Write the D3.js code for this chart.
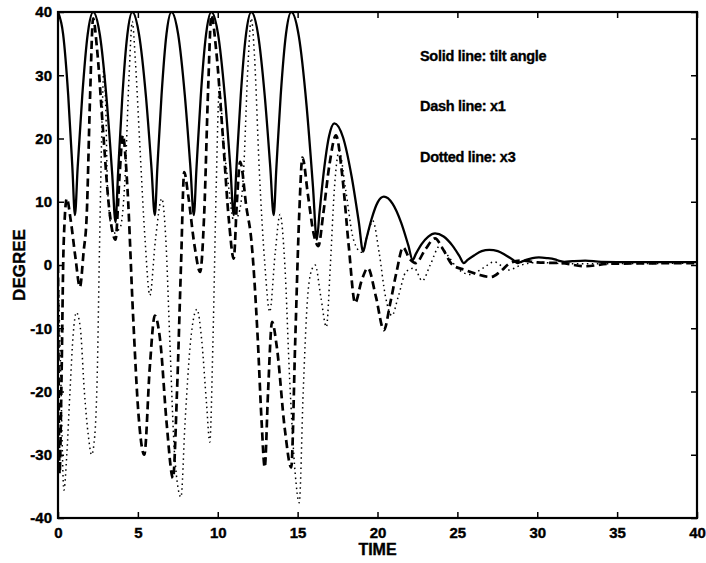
<!DOCTYPE html>
<html><head><meta charset="utf-8">
<script src="https://cdn.jsdelivr.net/npm/d3@7"></script>
<style>body{margin:0;background:#fff}svg{display:block}</style>
</head><body>
<svg id="c" width="706" height="563"></svg>
<script>
// ---- data ----
const xTicks = [0,5,10,15,20,25,30,35,40];
const yTicks = [-40,-30,-20,-10,0,10,20,30,40];
const legendLines = ["Solid line: tilt angle","Dash line: x1","Dotted line: x3"];
const xLabel = "TIME";
const yLabel = "DEGREE";

// solid: tilt angle  [time, degree]
const tilt = [[0,40],[0.32,36.5],[0.64,26.8],[0.90,15.4],[1.06,7.9],[1.23,15.4],[1.52,26.8],[1.86,36.5],
[2.2,40],[2.62,36.4],[3.04,26.3],[3.39,14.5],[3.6,6.8],[3.76,14.5],[4.02,26.3],[4.34,36.4],
[4.65,40],[5.07,36.5],[5.50,26.8],[5.85,15.4],[6.06,7.9],[6.22,15.4],[6.48,26.8],[6.79,36.5],
[7.1,40],[7.52,36.5],[7.94,26.8],[8.29,15.4],[8.5,7.9],[8.67,15.4],[8.94,26.8],[9.27,36.5],
[9.6,40],[10.02,36.5],[10.44,26.8],[10.79,15.4],[11.0,7.9],[11.17,15.4],[11.44,26.8],[11.77,36.5],
[12.1,40],[12.52,36.5],[12.94,26.8],[13.29,15.4],[13.5,7.9],[13.67,15.4],[13.94,26.8],[14.27,36.5],
[14.6,40],[15.08,36.1],[15.56,25.2],[15.96,12.4],[16.2,4.0],[16.37,8.3],[16.64,14.8],[16.97,20.4],
[17.3,22.4],[17.84,20.2],[18.38,14.0],[18.83,6.8],[19.1,2.1],[19.3,4.1],[19.62,7.2],[20.01,9.9],
[20.4,10.8],[20.94,9.7],[21.48,6.7],[21.93,3.1],[22.2,0.8],[22.41,1.8],[22.76,3.3],[23.18,4.5],
[23.6,5.0],[24.14,4.5],[24.68,3.1],[25.13,1.4],[25.4,0.3],[25.64,0.8],[26.04,1.5],[26.52,2.2],
[27.0,2.4],[27.53,2.2],[28.05,1.5],[28.49,0.8],[28.75,0.3],[29.0,0.5],[29.3,0.8],[29.7,1.1],
[30.1,1.2],[30.6,1.1],[31.1,0.9],[31.45,0.6],[31.7,0.5],[32.2,0.6],[33.0,0.7],[34.0,0.5],[36.0,0.45],[40,0.45]];

// dashed: x1
const x1 = [[0,0],[0.1,-33],[0.22,-18],[0.35,3],[0.55,10.5],[0.8,7],[1.1,1],[1.37,-3.5],[1.6,2],[1.8,8],[2.0,26],[2.2,39],
[2.45,34],[2.8,22],[3.2,9],[3.6,4],[3.85,14],[4.06,20.5],[4.35,12],[4.7,-8],[5.05,-24],[5.4,-30],[5.75,-16],[6.06,-8],
[6.4,-12],[6.8,-25],[7.2,-33.7],[7.45,-20],[7.7,0],[7.9,14.7],[8.15,11],[8.55,3],[8.9,-1.1],[9.15,8],[9.4,28],[9.6,39.5],
[9.9,34],[10.3,21],[10.7,7],[11.0,1],[11.2,10],[11.4,16.3],[11.8,9],[12.1,4],[12.5,-11.5],[12.75,-25],[12.94,-32],
[13.15,-20],[13.4,-9],[13.7,-13],[14.2,-26],[14.6,-32],[14.85,-12],[15.1,8],[15.3,17],[15.65,11],[16.0,5],[16.3,3],
[16.6,8],[17.0,16],[17.4,20.5],[17.8,14],[18.2,3],[18.6,-6],[19.0,-2.5],[19.4,-0.5],[19.9,-5],[20.4,-10.3],[20.8,-6],
[21.2,-1],[21.6,2.8],[22.0,1],[22.4,0.3],[23.0,2.5],[23.6,4.2],[24.1,2.5],[24.7,0],[25.5,-0.8],[26.3,-1.5],[27.1,-1.9],
[27.7,-1],[28.3,0.3],[29.0,0.7],[30.0,0.4],[31.5,0.3],[33.0,-0.2],[34.5,0.2],[40,0.3]];

// dotted: x3
const x3 = [[0,0],[0.15,-15],[0.37,-35.6],[0.55,-30],[0.75,-20],[0.95,-11],[1.15,-7.5],[1.4,-10],[1.65,-20],[1.9,-27],
[2.1,-30],[2.3,-27],[2.45,-18],[2.6,3],[2.75,22],[2.87,31],[3.0,24],[3.1,12],[3.45,5],[3.9,6],[4.2,14],[4.45,30],
[4.65,38.5],[4.85,32],[5.1,20],[5.45,4],[5.75,-4.8],[6.1,4],[6.5,10.5],[6.75,4],[7.0,-12],[7.3,-30],[7.7,-36.7],
[7.95,-25],[8.3,-12],[8.7,-7],[9.0,-12],[9.3,-22],[9.5,-28],[9.7,-12],[9.9,12],[10.1,28],[10.35,20],[10.7,12],
[11.0,7],[11.3,8],[11.6,14],[11.9,32],[12.1,39],[12.3,33],[12.6,15],[12.95,0],[13.25,-7.4],[13.6,2],[13.9,8],
[14.2,0],[14.5,-18],[14.85,-33],[15.1,-37.6],[15.35,-20],[15.6,-6],[15.85,-1],[16.1,0],[16.45,-5],[16.8,-9.8],
[17.05,0],[17.3,12],[17.6,18],[18.0,12],[18.5,4],[19.0,2],[19.4,5],[19.7,7],[20.1,2],[20.5,-5],[20.9,-8],[21.3,-5],
[21.8,-1],[22.3,-0.5],[22.8,-2.5],[23.3,0],[23.9,3],[24.4,1.5],[25.0,-0.5],[25.8,-1.5],[26.6,-0.5],[27.3,0.5],
[28.2,-0.8],[29.0,0],[30.0,0.4],[32,0.2],[40,0.3]];

// ---- drawing ----
const L = 58, R = 697, T = 12, B = 518;
const FONT = "'Liberation Sans', Arial, Helvetica, sans-serif";
const svg = d3.select('#c');
const x = d3.scaleLinear().domain([0,40]).range([L,R]);
const y = d3.scaleLinear().domain([-40,40]).range([B,T]);

svg.append('defs').append('clipPath').attr('id','clip')
  .append('rect').attr('x',L).attr('y',T).attr('width',R-L).attr('height',B-T);

const line = d3.line().x(d=>x(d[0])).y(d=>y(d[1])).curve(d3.curveMonotoneX);
const g = svg.append('g').attr('clip-path','url(#clip)');
g.append('path').datum(x3).attr('d',line).attr('fill','none').attr('stroke','#000')
  .attr('stroke-width',1.5).attr('stroke-dasharray','1.5,3.5');
g.append('path').datum(x1).attr('d',line).attr('fill','none').attr('stroke','#000')
  .attr('stroke-width',2.7).attr('stroke-dasharray','8,4.5');
g.append('path').datum(tilt).attr('d',line).attr('fill','none').attr('stroke','#000')
  .attr('stroke-width',2.3).attr('stroke-linejoin','round');

function styleAxis(sel, labels){
  sel.select('.domain').remove();
  sel.selectAll('.tick line').attr('stroke','#000').attr('stroke-width',1.5);
  sel.selectAll('.tick text').attr('fill','#000').attr('stroke','#000').attr('stroke-width',0.4)
    .style('font-family',FONT).style('font-weight','bold').style('font-size','15px');
  if(!labels) sel.selectAll('.tick text').remove();
}
svg.append('g').attr('transform',`translate(0,${B})`)
  .call(d3.axisBottom(x).tickValues(xTicks).tickSize(-6).tickPadding(9).tickFormat(d3.format('d')))
  .call(s=>styleAxis(s,true));
svg.append('g').attr('transform',`translate(0,${T})`)
  .call(d3.axisTop(x).tickValues(xTicks).tickSize(-6).tickFormat(''))
  .call(s=>styleAxis(s,false));
svg.append('g').attr('transform',`translate(${L},0)`)
  .call(d3.axisLeft(y).tickValues(yTicks).tickSize(-6).tickPadding(6).tickFormat(d=>String(d)))
  .call(s=>styleAxis(s,true));
svg.append('g').attr('transform',`translate(${R},0)`)
  .call(d3.axisRight(y).tickValues(yTicks).tickSize(-6).tickFormat(''))
  .call(s=>styleAxis(s,false));

svg.append('rect').attr('x',L).attr('y',T).attr('width',R-L).attr('height',B-T)
  .attr('fill','none').attr('stroke','#000').attr('stroke-width',2.2);

svg.append('text').attr('x',(L+R)/2).attr('y',555).attr('text-anchor','middle')
  .attr('stroke','#000').attr('stroke-width',0.4)
  .style('font-family',FONT).style('font-weight','bold').style('font-size','16px').text(xLabel);
svg.append('text').attr('transform',`translate(25,${(T+B)/2}) rotate(-90)`).attr('text-anchor','middle')
  .attr('stroke','#000').attr('stroke-width',0.4)
  .style('font-family',FONT).style('font-weight','bold').style('font-size','17px').text(yLabel);

const legY = [61,111,162];
legendLines.forEach((t,i)=>{
  svg.append('text').attr('x',420).attr('y',legY[i])
    .attr('stroke','#000').attr('stroke-width',0.35)
    .style('font-family',FONT).style('font-weight','bold').style('font-size','14.5px')
    .style('letter-spacing','-0.3px').text(t);
});
</script>
</body></html>
